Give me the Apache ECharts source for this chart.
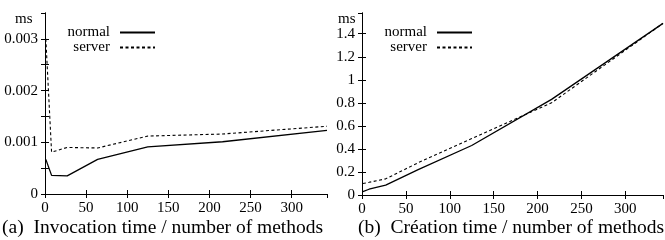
<!DOCTYPE html>
<html>
<head>
<meta charset="utf-8">
<script src="https://cdn.jsdelivr.net/npm/echarts@6/dist/echarts.min.js"></script>
<style>
  html, body { margin: 0; padding: 0; background: #fff; }
  #chart { width: 665px; height: 240px; }
</style>
</head>
<body>
<div id="chart"></div>
<script>
// number of methods (same x for both plots)
const methods = [1, 8, 27, 64, 125, 216, 343]

// (a) invocation time, ms
const invocNormal = [0.00067, 0.00036, 0.00035, 0.00067, 0.00091, 0.00101, 0.00123]
const invocServer = [0.0030, 0.00081, 0.00090, 0.00089, 0.00112, 0.00116, 0.00131]

// (b) creation time, ms
const creatNormal = [0.03, 0.05, 0.085, 0.22, 0.43, 0.83, 1.49]
const creatServer = [0.10, 0.11, 0.14, 0.28, 0.49, 0.80, 1.49]

const leftYLabels = ['0', '0.001', '0.002', '0.003']
const rightYLabels = ['0', '0.2', '0.4', '0.6', '0.8', '1', '1.2', '1.4']
const captions = ['(a)  Invocation time / number of methods', '(b)  Création time / number of methods']

const FONT = 'Liberation Serif'
const black = '#000'

const zip = (xs, ys) => xs.map((x, i) => [x, ys[i]])

// gnuplot-like box: all four sides, ticks pointing inward
const axisBase = (grid, pos) => ({
  type: 'value',
  gridIndex: grid,
  position: pos,
  axisLine: { show: true, lineStyle: { color: black, width: 1 } },
  axisTick: { show: true, inside: true, length: 4, lineStyle: { color: black } },
  splitLine: { show: false },
  axisLabel: { show: false }
})

const xAxis = (grid, pos, showLabel) => {
  const a = axisBase(grid, pos)
  a.min = 0
  a.max = 343
  a.interval = 50
  if (showLabel) {
    a.axisLabel = { show: true, margin: 7, fontFamily: FONT, fontSize: 15, color: black, showMaxLabel: false }
  }
  return a
}

const yAxis = (grid, pos, max, interval, labels, showLabel) => {
  const a = axisBase(grid, pos)
  a.min = 0
  a.max = max
  a.interval = interval
  if (showLabel) {
    a.axisLabel = {
      show: true, margin: 7, fontFamily: FONT, fontSize: 15, color: black,
      showMaxLabel: false,
      formatter: v => labels.find(l => Math.abs(parseFloat(l) - v) < interval / 10) || ''
    }
  }
  return a
}

const line = (name, data, xi, dashed) => ({
  type: 'line',
  name: name,
  xAxisIndex: xi,
  yAxisIndex: xi,
  data: data,
  symbol: 'none',
  silent: true,
  lineStyle: { color: black, width: dashed ? 1.1 : 1.3, type: dashed ? [3, 2.5] : 'solid' },
  itemStyle: { color: black }
})

const legend = right => ({
  orient: 'vertical',
  align: 'right',
  right: right,
  top: 25,
  padding: 0,
  itemWidth: 35,
  itemHeight: 8,
  itemGap: 0,
  itemStyle: { opacity: 0 },
  textStyle: { fontFamily: FONT, fontSize: 15, lineHeight: 13, color: black, padding: [0, 5, 0, 0] },
  data: ['normal', 'server']
})

const title = (text, left, top, size) => ({
  text: text,
  left: left,
  top: top,
  padding: 0,
  textStyle: { fontFamily: FONT, fontSize: size, fontWeight: 'normal', color: black }
})

const chart = echarts.init(document.getElementById('chart'), null, { renderer: 'canvas' })

chart.setOption({
  animation: false,
  backgroundColor: '#fff',
  grid: [
    { left: 45, top: 13, width: 282, height: 181 },
    { left: 362, top: 13, width: 301, height: 182 }
  ],
  xAxis: [
    xAxis(0, 'bottom', true), xAxis(0, 'top', false),
    xAxis(1, 'bottom', true), xAxis(1, 'top', false)
  ],
  yAxis: [
    yAxis(0, 'left', 0.0035, 0.0005, leftYLabels, true),
    yAxis(0, 'right', 0.0035, 0.0005, leftYLabels, false),
    yAxis(1, 'left', 1.58, 0.2, rightYLabels, true),
    yAxis(1, 'right', 1.58, 0.2, rightYLabels, false)
  ],
  legend: [legend(665 - 156), legend(665 - 473)],
  title: [
    title('ms', 15, 12, 15),
    title('ms', 338, 12, 15),
    title(captions[0], 2, 218, 19.5),
    title(captions[1], 358, 218, 19.5)
  ],
  series: [
    line('normal', zip(methods, invocNormal), 0, false),
    line('server', zip(methods, invocServer), 0, true),
    line('normal', zip(methods, creatNormal), 2, false),
    line('server', zip(methods, creatServer), 2, true)
  ]
})
</script>
</body>
</html>
